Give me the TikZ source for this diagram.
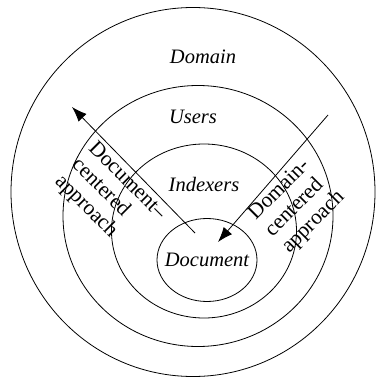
\documentclass[tikz,border=0pt]{standalone}
\usepackage{fontspec}
\setmainfont{Liberation Serif}
\usetikzlibrary{shapes.geometric,arrows.meta}

\begin{document}
\begin{tikzpicture}[x=1pt,y=-1pt]
	\tikzstyle{ring}=[ellipse, draw=black, line width=0.8pt, inner sep=0pt]
	\tikzstyle{layer}=[font=\fontsize{20.5}{24}\selectfont\itshape]
	\tikzstyle{approach}=[align=left, inner sep=0pt, font=\fontsize{21.5}{23.6}\selectfont]
	\tikzstyle{connect}=[-{Latex[length=15pt,width=11pt]}, line width=0.8pt]
	\useasboundingbox (0,0) rectangle (375,379);
	\node[ring, minimum width=364pt, minimum height=369pt] (domain) at (193,192) {};
	\node[ring, minimum width=270pt, minimum height=261pt] (users) at (198,216) {};
	\node[ring, minimum width=185pt, minimum height=174pt] (indexers) at (204,231) {};
	\node[ring, minimum width=100pt, minimum height=83pt] (document) at (207,260) [label={[layer]center:Document}] {};
	\node[layer] (domaintext) at (203,57) {Domain};
	\node[layer] (userstext) at (193,117) {Users};
	\node[layer] (indexerstext) at (204,184) {Indexers};
	\coordinate (docstart) at (195,233);
	\coordinate (doctip) at (72,107);
	\coordinate (domstart) at (328,115);
	\coordinate (domtip) at (218,242);
	\draw[connect] (docstart) -- (doctip);
	\draw[connect] (domstart) -- (domtip);
	\node[approach, rotate=-45] (doclabel) at (110,198) {Document--\\centered\\approach};
	\node[approach, rotate=45] (domlabel) at (297,206) {Domain-\\centered\\approach};
\end{tikzpicture}
\end{document}
